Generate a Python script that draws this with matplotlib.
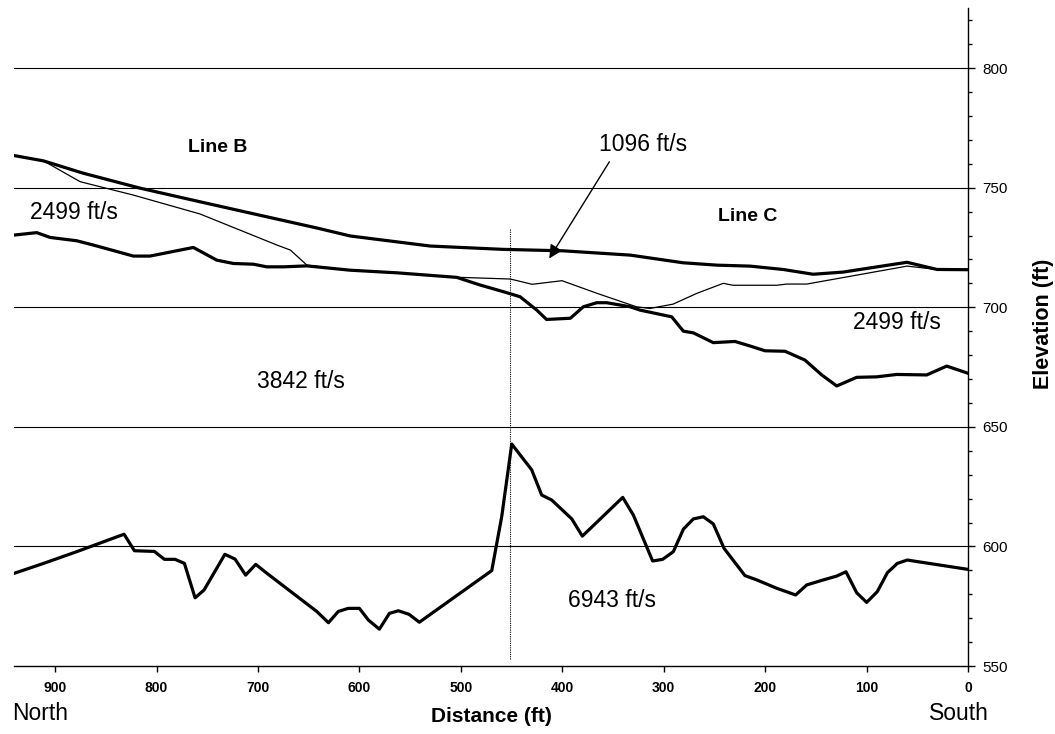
import matplotlib
matplotlib.use('Agg')
import matplotlib.pyplot as plt
from matplotlib.ticker import MultipleLocator

plt.rcParams['font.family'] = ['Liberation Sans', 'DejaVu Sans']

# ground surface (top of Line B / Line C profile)
surface_dist = [940, 911.4, 872.7, 816.2, 757.1, 691.0, 641.5, 609.0, 530.3, 458.2,
                399.2, 333.0, 280.9, 247.4, 214.9, 182.3, 152.7, 123.2, 89.6, 60.1,
                30.5, 0]
surface_elev = [763.4, 761.2, 756.1, 749.8, 744.1, 737.8, 733.1, 729.8, 725.6, 724.2,
                723.6, 721.8, 718.6, 717.6, 717.2, 715.8, 713.8, 714.7, 716.9, 718.8,
                715.8, 715.7]

# thin refractor boundary (1096 ft/s layer base)
thin_dist = [940, 911.4, 875.3, 822.8, 757.1, 681.2, 668.0, 651.7, 609.2, 563.1,
             501.0, 451.1, 429.7, 400.2, 365.6, 326.9, 313.6, 290.8, 267.4, 241.3,
             231.7, 188.4, 178.7, 158.9, 60.1, 30.5, 0]
thin_elev = [763.4, 761.2, 752.5, 746.9, 739.0, 726.0, 723.9, 717.6, 715.5, 714.4,
             712.5, 711.8, 709.6, 711.1, 705.8, 700.2, 699.5, 701.3, 705.8, 710.0,
             709.2, 709.2, 709.7, 709.7, 717.2, 715.8, 715.7]

# base of the 2499 ft/s layer
mid_dist = [940, 918.1, 905.0, 878.7, 862.2, 822.8, 806.4, 763.7, 740.6, 724.2,
            704.5, 691.3, 674.9, 651.9, 609.2, 563.1, 504.1, 481.0, 458.0, 441.6,
            425.1, 415.5, 392.0, 379.2, 366.0, 356.2, 333.0, 323.3, 292.1, 280.6,
            270.8, 251.1, 229.7, 214.9, 200.1, 180.4, 160.7, 144.2, 129.4, 109.7,
            90.0, 70.3, 40.7, 21.0, 0]
mid_elev = [730.2, 731.2, 729.2, 727.8, 726.0, 721.4, 721.4, 725.0, 719.7, 718.3,
            718.0, 716.9, 716.9, 717.3, 715.5, 714.4, 712.5, 709.3, 706.5, 704.4,
            698.8, 694.9, 695.4, 700.2, 701.9, 701.9, 700.2, 698.8, 696.0, 690.0,
            689.3, 685.2, 685.7, 683.8, 681.8, 681.6, 677.9, 671.7, 667.1, 670.7,
            670.9, 671.9, 671.7, 675.4, 672.4]

# base of the 3842 ft/s layer
deep_dist = [940, 911.4, 878.7, 832.0, 821.8, 802.1, 792.2, 781.7, 772.5, 762.0,
             753.1, 732.6, 722.6, 712.1, 702.2, 691.3, 642.0, 630.5, 620.8, 611.0,
             600.0, 591.1, 580.3, 570.4, 561.6, 551.0, 540.9, 469.5, 459.7, 449.8,
             430.1, 420.3, 410.4, 390.6, 380.2, 340.4, 329.9, 310.9, 301.0, 290.5,
             280.6, 270.8, 260.9, 251.1, 240.5, 219.9, 208.3, 188.6, 169.9, 159.0,
             142.6, 129.4, 120.3, 109.7, 99.9, 89.4, 79.5, 69.7, 59.9, 0]
deep_elev = [588.8, 592.9, 597.8, 605.1, 598.2, 597.9, 594.6, 594.6, 592.9, 578.5,
             581.8, 596.7, 594.7, 588.0, 592.5, 588.8, 572.8, 568.1, 572.8, 574.1,
             574.1, 569.2, 565.4, 572.0, 573.1, 571.6, 568.3, 589.9, 612.4, 642.8,
             632.0, 621.5, 619.4, 611.5, 604.3, 620.5, 613.1, 593.9, 594.6, 597.8,
             607.2, 611.5, 612.4, 609.4, 599.2, 587.8, 586.0, 582.5, 579.7, 583.9,
             586.0, 587.6, 589.4, 580.6, 576.6, 581.1, 589.0, 592.9, 594.3, 590.4]

grid_levels = [600, 650, 700, 750, 800]
x_ticks = [0, 100, 200, 300, 400, 500, 600, 700, 800, 900]
line_junction = 452  # where Line B meets Line C

fig = plt.figure(figsize=(10.55, 7.34), dpi=100)
ax = fig.add_axes([14 / 1055, 1 - 666 / 734, (968 - 14) / 1055, (666 - 8.3) / 734])

for g in grid_levels:
    ax.axhline(g, color='black', lw=0.8, zorder=1)

ax.plot([line_junction, line_junction], [553, 733], color='black', lw=0.8,
        linestyle=(0, (1, 1)), zorder=2)

ax.plot(thin_dist, thin_elev, color='black', lw=0.9, zorder=3)
ax.plot(surface_dist, surface_elev, color='black', lw=2.3, zorder=4)
ax.plot(mid_dist, mid_elev, color='black', lw=2.3, zorder=4)
ax.plot(deep_dist, deep_elev, color='black', lw=2.3, zorder=4)

ax.set_xlim(940.5, 0)
ax.set_ylim(550, 825)

ax.spines['left'].set_visible(False)
ax.spines['top'].set_visible(False)
ax.spines['right'].set_linewidth(1)
ax.spines['bottom'].set_linewidth(1)

ax.yaxis.tick_right()
ax.yaxis.set_major_locator(MultipleLocator(50))
ax.yaxis.set_minor_locator(MultipleLocator(10))
ax.tick_params(axis='y', which='major', direction='out', length=5, width=1,
               pad=5, labelsize=11)
ax.tick_params(axis='y', which='minor', direction='out', length=3, width=1)

ax.set_xticks(x_ticks)
ax.set_xticklabels([str(t) for t in x_ticks], fontweight='bold', fontsize=10)
ax.tick_params(axis='x', direction='out', length=4, width=1, pad=7)

# velocity / line labels
ax.text(769.2, 767, 'Line B', fontsize=14, fontweight='bold', ha='left', va='center')
ax.text(246.2, 737.8, 'Line C', fontsize=14, fontweight='bold', ha='left', va='center')
ax.text(924.7, 739.6, '2499 ft/s', fontsize=16.5, ha='left', va='center')
ax.text(113.1, 693.5, '2499 ft/s', fontsize=16.5, ha='left', va='center')
ax.text(363.8, 768.2, '1096 ft/s', fontsize=16.5, ha='left', va='center')
ax.text(700.9, 669.1, '3842 ft/s', fontsize=16.5, ha='left', va='center')
ax.text(394.0, 577.3, '6943 ft/s', fontsize=16.5, ha='left', va='center')

ax.annotate('', xy=(412.8, 720.4), xytext=(353.6, 760.8),
            arrowprops=dict(arrowstyle='-|>', color='black', lw=1,
                            mutation_scale=20, shrinkA=0, shrinkB=0), zorder=5)

fig.text(12 / 1055, 1 - 713 / 734, 'North', fontsize=16.5, ha='left', va='center')
fig.text(989 / 1055, 1 - 713 / 734, 'South', fontsize=16.5, ha='right', va='center')
fig.text(491 / 1055, 1 - 716 / 734, 'Distance (ft)', fontsize=15, fontweight='bold',
         ha='center', va='center')
fig.text(1043 / 1055, 1 - 324 / 734, 'Elevation (ft)', fontsize=15.5, fontweight='bold',
         rotation=90, ha='center', va='center')

fig.savefig('out.png', dpi=100)
